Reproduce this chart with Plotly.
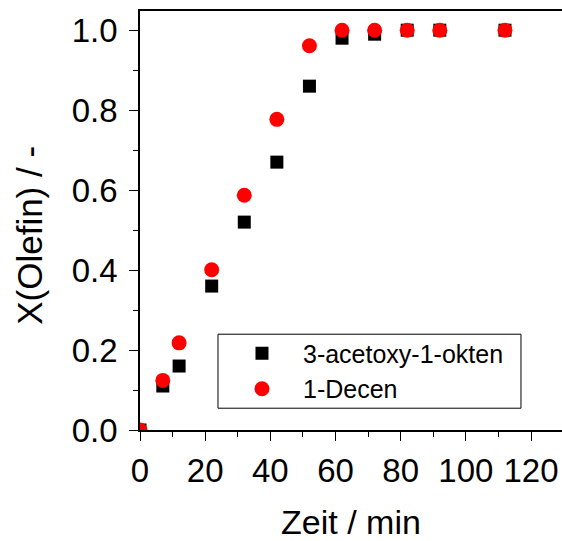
import plotly.graph_objects as go

# reaction time in minutes
zeit = [0, 7, 12, 22, 32, 42, 52, 62, 72, 82, 92, 112]

# olefin conversion per substrate
x_acetoxyokten = [0.0, 0.11, 0.16, 0.36, 0.52, 0.67, 0.86, 0.98, 0.99, 1.0, 1.0, 1.0]
x_decen = [0.0, 0.124, 0.218, 0.401, 0.587, 0.777, 0.961, 1.0, 1.0, 1.0, 1.0, 1.0]

series_names = ["3-acetoxy-1-okten", "1-Decen"]

FONT = "Liberation Sans, Arial, sans-serif"

fig = go.Figure()
fig.add_trace(go.Scatter(
    x=zeit, y=x_acetoxyokten, mode="markers", name=series_names[0],
    marker=dict(symbol="square", size=13, color="#000000", line=dict(width=0)),
))
fig.add_trace(go.Scatter(
    x=zeit, y=x_decen, mode="markers", name=series_names[1],
    marker=dict(symbol="circle", size=15, color="#ff0000", line=dict(width=0)),
))

axis_common = dict(
    showgrid=False, zeroline=False,
    showline=True, linecolor="#000000", linewidth=1.6,
    ticks="outside", ticklen=9, tickwidth=1.4, tickcolor="#000000",
    tickfont=dict(family=FONT, size=33, color="#000000"),
)

fig.update_xaxes(
    range=[0, 129.5], dtick=20, tick0=0, mirror=True,
    minor=dict(dtick=10, ticks="outside", ticklen=5, tickwidth=1.4, tickcolor="#000000"),
    title=dict(text="Zeit / min", font=dict(family=FONT, size=34, color="#000000"), standoff=28),
    ticklabelstandoff=2,
    **axis_common,
)
fig.update_yaxes(
    range=[0, 1.048], dtick=0.2, tick0=0, tickformat=".1f", mirror=False,
    minor=dict(dtick=0.1, ticks="outside", ticklen=5, tickwidth=1.4, tickcolor="#000000"),
    ticklabelstandoff=5,
    **axis_common,
)

fig.add_annotation(
    text="X(Olefin) / -", textangle=-90, showarrow=False,
    xref="paper", yref="paper", x=-0.262, y=0.4645,
    xanchor="center", yanchor="middle",
    font=dict(family=FONT, size=35, color="#000000"),
)

# frame around the legend entries
fig.add_shape(
    type="rect", xref="paper", yref="paper",
    x0=0.1848, x1=0.9028, y0=0.052, y1=0.2286,
    line=dict(color="#000000", width=1), fillcolor="rgba(0,0,0,0)", layer="above",
)

fig.update_layout(
    width=562, height=541,
    margin=dict(l=140, r=0, t=11, b=107, pad=0),
    paper_bgcolor="#ffffff", plot_bgcolor="#ffffff",
    showlegend=True,
    legend=dict(
        x=0.1919, y=0.2376, xanchor="left", yanchor="top",
        borderwidth=0, bgcolor="rgba(0,0,0,0)",
        itemwidth=72, font=dict(family=FONT, size=25, color="#000000"),
    ),
)

fig.write_html("out.html")
